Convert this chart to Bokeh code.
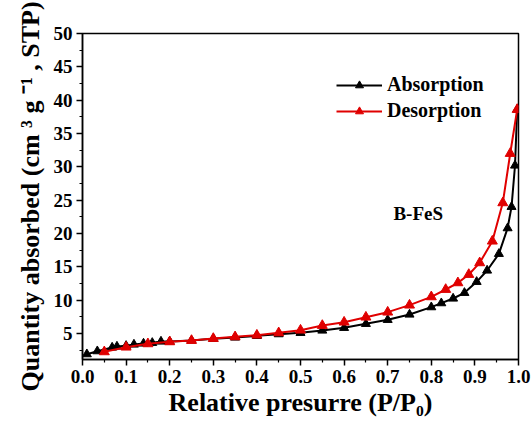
from bokeh.plotting import figure
from bokeh.models import Legend, LegendItem, Range1d, FixedTicker, Label
from bokeh.embed import file_html
from bokeh.resources import INLINE

# N2 isotherm of B-FeS: relative pressure vs. quantity adsorbed
ads_p = [0.01, 0.034, 0.068, 0.079, 0.10, 0.118, 0.14, 0.16, 0.18, 0.20, 0.25, 0.30,
         0.35, 0.40, 0.45, 0.50, 0.55, 0.60, 0.65, 0.70, 0.75, 0.80, 0.823, 0.85,
         0.876, 0.904, 0.928, 0.955, 0.975, 0.984, 0.992, 0.997]
ads_q = [1.9, 2.35, 2.9, 3.05, 3.15, 3.35, 3.5, 3.6, 3.8, 3.8, 3.95, 4.2,
         4.4, 4.65, 4.9, 5.1, 5.45, 5.85, 6.45, 7.05, 7.85, 8.95, 9.55, 10.25,
         11.1, 12.75, 14.45, 16.95, 20.8, 24.0, 30.2, 38.6]

des_p = [0.05, 0.10, 0.15, 0.20, 0.25, 0.30, 0.35, 0.40, 0.45, 0.50, 0.55, 0.60,
         0.65, 0.70, 0.75, 0.80, 0.833, 0.861, 0.886, 0.911, 0.94, 0.964, 0.981, 0.997]
des_q = [2.25, 2.95, 3.45, 3.75, 3.95, 4.25, 4.5, 4.75, 5.1, 5.5, 6.2, 6.7,
         7.45, 8.2, 9.25, 10.5, 11.6, 12.6, 13.85, 15.6, 18.85, 24.6, 32.0, 38.6]

x_ticks = [0.0, 0.1, 0.2, 0.3, 0.4, 0.5, 0.6, 0.7, 0.8, 0.9, 1.0]
y_ticks = [5, 10, 15, 20, 25, 30, 35, 40, 45, 50]

FONT = "Liberation Serif"

p = figure(width=532, height=421, output_backend="svg", toolbar_location=None,
           x_range=Range1d(0.0, 1.0), y_range=Range1d(1.1, 50))
p.min_border_left = 82
p.min_border_right = 14
p.min_border_top = 33
p.min_border_bottom = 62
p.background_fill_color = "white"
p.border_fill_color = "white"
p.outline_line_color = "black"
p.outline_line_width = 1.5
p.xgrid.visible = False
p.ygrid.visible = False

for ax in (p.xaxis[0], p.yaxis[0]):
    ax.axis_line_width = 1.5
    ax.major_tick_line_width = 1.5
    ax.minor_tick_line_width = 1.2
    ax.major_tick_out = 6
    ax.major_tick_in = 0
    ax.minor_tick_out = 3
    ax.minor_tick_in = 0
    ax.major_label_text_font = FONT
    ax.major_label_text_font_style = "bold"
    ax.major_label_text_font_size = "19px"
    ax.major_label_text_color = "black"
    ax.axis_label_text_font = FONT
    ax.axis_label_text_font_style = "bold"
    ax.axis_label_text_font_size = "26px"
    ax.axis_label_text_color = "black"

p.xaxis.ticker = FixedTicker(ticks=x_ticks,
                             minor_ticks=[round(0.05 + 0.1 * i, 2) for i in range(10)])
p.yaxis.ticker = FixedTicker(ticks=y_ticks,
                             minor_ticks=[2.5 + 5 * i for i in range(10)])
p.xaxis.major_label_overrides = {t: f"{t:.1f}" for t in x_ticks}
p.xaxis.axis_label = "Relative presurre (P/P\u2080)"
p.yaxis.axis_label = "Quantity absorbed (cm \u00b3 g \u207b\u00b9 , STP)"
p.xaxis.major_label_standoff = 4
p.yaxis.major_label_standoff = 4
p.xaxis.axis_label_standoff = 2
p.yaxis.axis_label_standoff = 6

# adsorption branch (black), desorption branch (red) drawn on top
a_line = p.line(ads_p, ads_q, line_color="black", line_width=2)
a_pts = p.scatter(ads_p, ads_q, marker="triangle", size=9,
                  fill_color="black", line_color="black")
d_line = p.line(des_p, des_q, line_color="#e00000", line_width=2)
d_pts = p.scatter(des_p, des_q, marker="triangle", size=10,
                  fill_color="#e00000", line_color="#e00000")

legend = Legend(items=[LegendItem(label="Absorption", renderers=[a_line, a_pts]),
                       LegendItem(label="Desorption", renderers=[d_line, d_pts])],
                location=(254, 237))
legend.background_fill_alpha = 0
legend.border_line_alpha = 0
legend.padding = 0
legend.margin = 0
legend.spacing = 3
legend.glyph_width = 46
legend.glyph_height = 20
legend.label_standoff = 5
legend.label_text_font = FONT
legend.label_text_font_style = "bold"
legend.label_text_font_size = "20px"
legend.label_text_color = "black"
p.add_layout(legend)

p.add_layout(Label(x=0.77, y=23.0, text="B-FeS", text_font=FONT,
                   text_font_style="bold", text_font_size="19px",
                   text_color="black", text_align="center",
                   text_baseline="middle"))

open("out.html", "w").write(file_html(p, INLINE))
